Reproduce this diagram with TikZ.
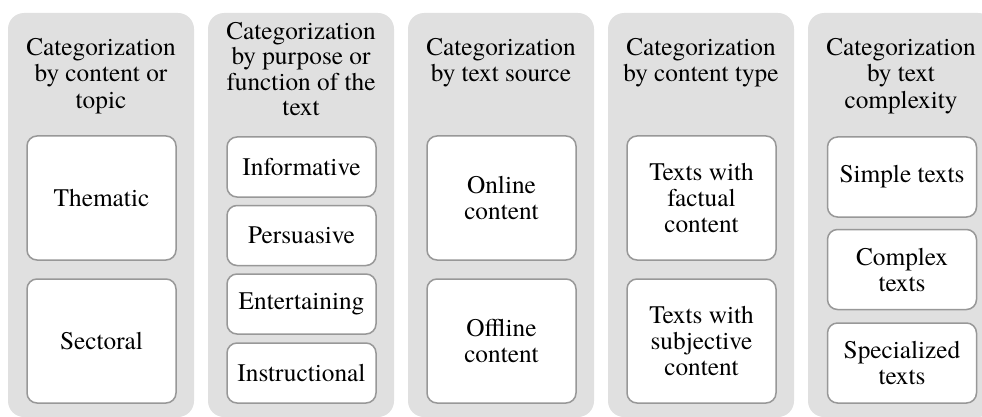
\documentclass[tikz,border=0pt]{standalone}
\usepackage{fontspec}
\setmainfont{texgyretermes-regular.otf}[
  BoldFont=texgyretermes-bold.otf,
  ItalicFont=texgyretermes-italic.otf,
  BoldItalicFont=texgyretermes-bolditalic.otf]
\definecolor{panelgray}{HTML}{E0E0E0}
\definecolor{edgegray}{HTML}{989898}
\tikzset{
  panel/.style={fill=panelgray, draw=none, rounded corners=16pt,
    minimum width=186pt, minimum height=404pt, inner sep=0pt},
  heading/.style={anchor=north, align=center, inner sep=0pt,
    font=\fontsize{25.3}{26.5}\selectfont},
  itembox/.style={draw=edgegray, line width=1.5pt, fill=white,
    rounded corners=10pt, minimum width=149pt, inner sep=0pt,
    align=center, font=\fontsize{25.3}{26}\selectfont},
  tallbox/.style={itembox, minimum height=124pt},
  smallbox/.style={itembox, minimum height=60pt},
  midbox/.style={itembox, minimum height=80pt},
}
\newcommand{\topstrut}{\rule{0pt}{18pt}}
\begin{document}
\begin{tikzpicture}[x=1pt, y=-1pt]
  \useasboundingbox (0,0) rectangle (982,417);

  % background panels
  \node[panel] (p1) at (101,215) {};
  \node[panel] (p2) at (301,215) {};
  \node[panel] (p3) at (501,215) {};
  \node[panel] (p4) at (701,215) {};
  \node[panel] (p5) at (901,215) {};

  % panel headings
  \node[heading] (t1) at (101,37) {\topstrut Categorization\\by content or\\topic};
  \node[heading, font=\fontsize{25.3}{25.5}\selectfont] (t2) at (301,21)
    {\topstrut Categorization\\by purpose or\\function of the\\text};
  \node[heading] (t3) at (501,37) {\topstrut Categorization\\by text source};
  \node[heading] (t4) at (701,37) {\topstrut Categorization\\by content type};
  \node[heading] (t5) at (901,37) {\topstrut Categorization\\by text\\complexity};

  % content or topic
  \node[tallbox] (thematic) at (101.5,198) {Thematic};
  \node[tallbox] (sectoral) at (101.5,341) {Sectoral};

  % purpose or function
  \node[smallbox] (informative)   at (301.5,167)   {Informative};
  \node[smallbox] (persuasive)    at (301.5,235.5) {Persuasive};
  \node[smallbox] (entertaining)  at (301.5,304)   {Entertaining};
  \node[smallbox] (instructional) at (301.5,373)   {Instructional};

  % text source
  \node[tallbox] (online)  at (501.5,198) {Online\\content};
  \node[tallbox] (offline) at (501.5,341) {Offline\\content};

  % content type
  \node[tallbox] (factual)    at (701.5,198) {Texts with\\factual\\content};
  \node[tallbox] (subjective) at (701.5,341) {Texts with\\subjective\\content};

  % text complexity
  \node[midbox] (simple)      at (902,177)   {Simple texts};
  \node[midbox] (complex)     at (902,269.5) {Complex\\texts};
  \node[midbox] (specialized) at (902,363)   {Specialized\\texts};
\end{tikzpicture}
\end{document}
